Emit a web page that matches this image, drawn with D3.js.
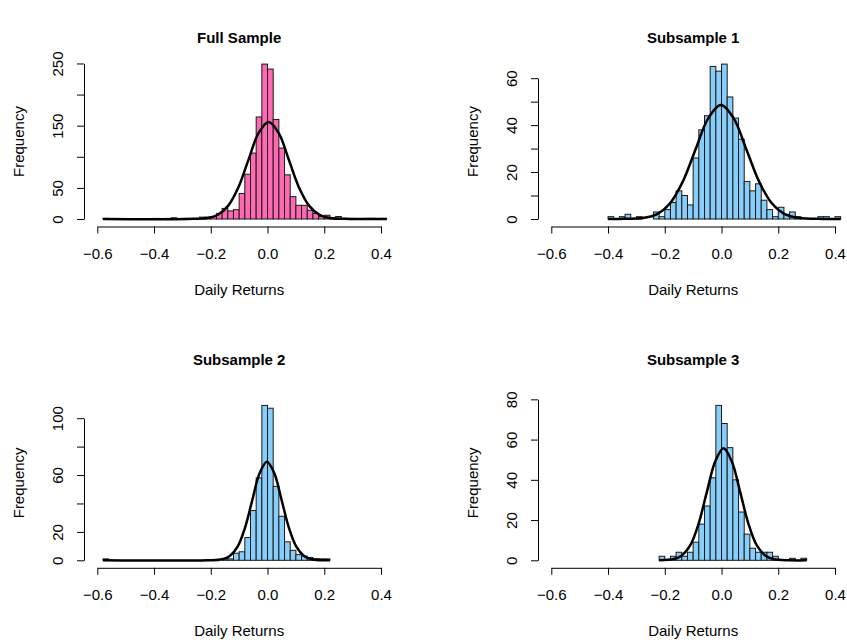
<!DOCTYPE html>
<html>
<head>
<meta charset="utf-8">
<script src="https://cdn.jsdelivr.net/npm/d3@7"></script>
<style>
  body { margin: 0; background: #ffffff; }
  text { font-family: "Liberation Sans", Arial, Helvetica, sans-serif; fill: #000; }
</style>
</head>
<body>
<script>
// bin width of every histogram
var binWidth = 0.02;

// Full Sample: counts per bin, first bin starts at -0.58
var fullStart = -0.58;
var fullCounts = [1, 0, 0, 0, 0, 0, 0, 0, 0, 1,
                  0, 1, 2, 0, 1, 0, 0, 3, 3, 4,
                  9, 17, 13, 15, 41, 72, 106, 164, 249, 241,
                  160, 114, 71, 36, 22, 22, 14, 9, 4, 6,
                  2, 4, 1, 1, 0, 0, 1, 1, 0, 1];

// Subsample 1, first bin starts at -0.40
var sub1Start = -0.40;
var sub1Counts = [1, 0, 1, 2, 0, 1, 0, 0, 3, 1,
                  4, 7, 12, 10, 6, 26, 38, 44, 65, 63,
                  66, 52, 43, 34, 16, 12, 15, 8, 4, 1,
                  5, 2, 3, 1, 0, 0, 0, 1, 1, 0, 1];

// Subsample 2, first bin starts at -0.58
var sub2Start = -0.58;
var sub2Counts = [1, 0, 0, 0, 0, 0, 0, 0, 0, 0,
                  0, 0, 0, 0, 0, 0, 0, 0, 0, 0,
                  0, 1, 1, 5, 6, 16, 35, 58, 109, 107,
                  52, 31, 13, 7, 4, 3, 2, 1, 1, 1];

// Subsample 3, first bin starts at -0.22
var sub3Start = -0.22;
var sub3Counts = [2, 0, 2, 4, 2, 4, 9, 18, 27, 41,
                  77, 68, 56, 40, 24, 13, 6, 4, 4, 4,
                  2, 0, 0, 1, 0, 1];

// fitted normal curves (x, frequency)
var fullCurveX = [-0.58, -0.282, -0.2105, -0.175, -0.139, -0.103, -0.0675, -0.032, 0.004, 0.040, 0.0755, 0.111, 0.147, 0.183, 0.2185, 0.290, 0.42];
var fullCurveY = [0, 0.05, 1.7, 6.8, 21.1, 50.7, 94.6, 137.7, 156, 137.7, 94.6, 50.7, 21.1, 6.8, 1.7, 0.05, 0];

var sub1CurveX = [-0.40, -0.362, -0.272, -0.227, -0.182, -0.137, -0.092, -0.047, -0.002, 0.043, 0.088, 0.133, 0.178, 0.223, 0.268, 0.358, 0.42];
var sub1CurveY = [0, 0.02, 0.54, 2.1, 6.6, 15.8, 29.5, 42.9, 48.6, 42.9, 29.5, 15.8, 6.6, 2.1, 0.54, 0.02, 0];

var sub2CurveX = [-0.58, -0.211, -0.159, -0.133, -0.106, -0.080, -0.054, -0.028, -0.002, 0.024, 0.050, 0.076, 0.102, 0.129, 0.155, 0.207, 0.22];
var sub2CurveY = [0, 0.02, 0.77, 3.0, 9.4, 22.5, 42.1, 61.2, 69.4, 61.2, 42.1, 22.5, 9.4, 3.0, 0.77, 0.02, 0];

var sub3CurveX = [-0.22, -0.169, -0.140, -0.110, -0.081, -0.052, -0.022, 0.007, 0.036, 0.066, 0.095, 0.124, 0.154, 0.183, 0.241, 0.30];
var sub3CurveY = [0.03, 0.62, 2.4, 7.5, 18.1, 33.8, 49.2, 55.7, 49.2, 33.8, 18.1, 7.5, 2.4, 0.62, 0.02, 0];

// axis ticks and labels
var xTicks = [-0.6, -0.4, -0.2, 0.0, 0.2, 0.4];
var fullYTicks = [0, 50, 100, 150, 200, 250];
var fullYLabels = [0, 50, 150, 250];
var sub1YTicks = [0, 10, 20, 30, 40, 50, 60];
var sub1YLabels = [0, 20, 40, 60];
var sub2YTicks = [0, 20, 40, 60, 80, 100];
var sub2YLabels = [0, 20, 60, 100];
var sub3YTicks = [0, 20, 40, 60, 80];
var sub3YLabels = [0, 20, 40, 60, 80];

var titles = ['Full Sample', 'Subsample 1', 'Subsample 2', 'Subsample 3'];
var xTitle = 'Daily Returns';
var yTitle = 'Frequency';

var pink = '#ff69b4';
var blue = '#87cefa';

var panels = [
  {title: titles[0], start: fullStart, counts: fullCounts, cx: fullCurveX, cy: fullCurveY,
   yTicks: fullYTicks, yLabels: fullYLabels, fill: pink, dx: 0, base: 219, titleY: 43},
  {title: titles[1], start: sub1Start, counts: sub1Counts, cx: sub1CurveX, cy: sub1CurveY,
   yTicks: sub1YTicks, yLabels: sub1YLabels, fill: blue, dx: 454, base: 219, titleY: 43},
  {title: titles[2], start: sub2Start, counts: sub2Counts, cx: sub2CurveX, cy: sub2CurveY,
   yTicks: sub2YTicks, yLabels: sub2YLabels, fill: blue, dx: 0, base: 560.3, titleY: 365},
  {title: titles[3], start: sub3Start, counts: sub3Counts, cx: sub3CurveX, cy: sub3CurveY,
   yTicks: sub3YTicks, yLabels: sub3YLabels, fill: blue, dx: 454, base: 560.3, titleY: 365}
];

var axisFont = '15px';

var svg = d3.select('body')
  .append('svg')
  .attr('width', 847)
  .attr('height', 644);

var regionH = 167.3;   // height of each plotting region

panels.forEach(function(p) {
  var g = svg.append('g');

  var x = d3.scaleLinear()
    .domain([-0.64, 0.44])
    .range([85.95 + p.dx, 392.35 + p.dx]);

  var maxCount = d3.max(p.counts);
  var bottom = p.base + regionH * 0.04 / 1.08;
  var y = d3.scaleLinear()
    .domain([-0.04 * maxCount, 1.04 * maxCount])
    .range([bottom, bottom - regionH]);

  var bins = p.counts.map(function(c, i) {
    return {x0: p.start + i * binWidth, x1: p.start + (i + 1) * binWidth, n: c};
  });

  g.selectAll('rect.bar')
    .data(bins)
    .enter()
    .append('rect')
    .attr('class', 'bar')
    .attr('x', function(d) { return x(d.x0); })
    .attr('width', function(d) { return x(d.x1) - x(d.x0); })
    .attr('y', function(d) { return y(d.n); })
    .attr('height', function(d) { return y(0) - y(d.n); })
    .attr('fill', p.fill)
    .attr('stroke', '#1a1a1a')
    .attr('stroke-width', 1);

  var pts = p.cx.map(function(v, i) { return [v, p.cy[i]]; });
  var line = d3.line()
    .x(function(d) { return x(d[0]); })
    .y(function(d) { return y(d[1]); })
    .curve(d3.curveCatmullRom);

  g.append('path')
    .datum(pts)
    .attr('d', line)
    .attr('fill', 'none')
    .attr('stroke', '#000')
    .attr('stroke-width', 2.5);

  // x axis, line only from first to last tick like R
  var axisY = y(0) + 7.5;
  var xa = x.copy().domain([xTicks[0], xTicks[xTicks.length - 1]])
    .range([x(xTicks[0]), x(xTicks[xTicks.length - 1])]);
  var xAxis = g.append('g')
    .attr('transform', 'translate(0,' + axisY + ')')
    .call(d3.axisBottom(xa).tickValues(xTicks).tickSize(7).tickSizeOuter(0)
      .tickFormat(d3.format('.1f')));
  xAxis.selectAll('text')
    .attr('dy', null)
    .attr('y', 32)
    .style('font-size', axisFont)
    .style('font-family', '"Liberation Sans", Arial, sans-serif');

  // y axis
  var axisX = 84 + p.dx;
  var yTop = p.yTicks[p.yTicks.length - 1];
  var ya = y.copy().domain([0, yTop]).range([y(0), y(yTop)]);
  var yAxis = g.append('g')
    .attr('transform', 'translate(' + axisX + ',0)')
    .call(d3.axisLeft(ya).tickValues(p.yTicks).tickSize(7).tickSizeOuter(0)
      .tickFormat(function(d) { return p.yLabels.indexOf(d) >= 0 ? d : ''; }));
  yAxis.selectAll('text')
    .attr('x', null)
    .attr('dy', null)
    .attr('text-anchor', 'middle')
    .attr('transform', 'translate(-21,0) rotate(-90)')
    .style('font-size', axisFont)
    .style('font-family', '"Liberation Sans", Arial, sans-serif');
  g.selectAll('.domain, .tick line').attr('stroke', '#000');

  var midX = x(-0.1);
  g.append('text')
    .attr('x', midX)
    .attr('y', p.titleY)
    .attr('text-anchor', 'middle')
    .style('font-size', '15px')
    .style('font-weight', 'bold')
    .text(p.title);

  g.append('text')
    .attr('x', midX)
    .attr('y', axisY + 68)
    .attr('text-anchor', 'middle')
    .style('font-size', axisFont)
    .text(xTitle);

  var midY = (y.range()[0] + y.range()[1]) / 2;
  g.append('text')
    .attr('transform', 'translate(' + (24 + p.dx) + ',' + midY + ') rotate(-90)')
    .attr('text-anchor', 'middle')
    .style('font-size', axisFont)
    .text(yTitle);
});
</script>
</body>
</html>
